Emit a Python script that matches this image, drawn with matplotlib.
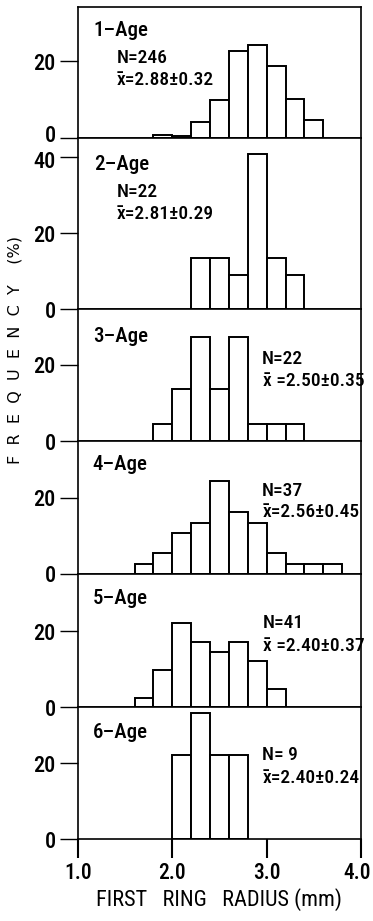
import matplotlib
matplotlib.use("Agg")
import matplotlib.pyplot as plt
import matplotlib.transforms as mtransforms
import numpy as np

plt.rcParams['font.family'] = ['Roboto Condensed', 'DejaVu Sans']
plt.rcParams['font.weight'] = 'medium'

# bin starts (mm) and frequencies (%) for each age group
age1_start = 1.8
age1_freq = [0.6, 0.3, 4.2, 9.8, 22.8, 24.4, 18.7, 10.2, 4.6]
age2_start = 2.2
age2_freq = [13.6, 13.6, 9.1, 40.9, 13.6, 9.1]
age3_start = 1.8
age3_freq = [4.5, 13.6, 27.3, 13.6, 27.3, 4.5, 4.5, 4.5]
age4_start = 1.6
age4_freq = [2.7, 5.4, 10.8, 13.5, 24.3, 16.2, 13.5, 5.4, 2.7, 2.7, 2.7]
age5_start = 1.6
age5_freq = [2.4, 9.8, 22.0, 17.1, 14.6, 17.1, 12.2, 4.9]
age6_start = 2.0
age6_freq = [22.2, 33.3, 22.2, 22.2]
bin_width = 0.2

age_labels = ["1\u2013Age", "2\u2013Age", "3\u2013Age", "4\u2013Age", "5\u2013Age", "6\u2013Age"]
n_labels = ["N=246", "N=22", "N=22", "N=37", "N=41", "N= 9"]
mean_labels = ["x\u0304=2.88\u00b10.32", "x\u0304=2.81\u00b10.29", "x\u0304 =2.50\u00b10.35",
               "x\u0304=2.56\u00b10.45", "x\u0304 =2.40\u00b10.37", "x\u0304=2.40\u00b10.24"]
y_tops = [34.3, 45.1, 34.6, 34.9, 35.0, 34.7]
y_ticks = [[0, 20], [0, 20, 40], [0, 20], [0, 20], [0, 20], [0, 20]]
x_ticks = [1.0, 2.0, 3.0, 4.0]

starts = [age1_start, age2_start, age3_start, age4_start, age5_start, age6_start]
freqs = [age1_freq, age2_freq, age3_freq, age4_freq, age5_freq, age6_freq]

# text positions (data coordinates)
age_pos = [(1.16, 26.8), (1.17, 36.5), (1.16, 26.1), (1.155, 27.3), (1.16, 27.0), (1.16, 26.7)]
n_pos = [(1.41, 19.6), (1.41, 29.6), (2.95, 20.3), (2.95, 20.5), (2.96, 20.8), (2.95, 20.9)]
m_pos = [(1.41, 13.8), (1.41, 23.7), (2.96, 14.4), (2.96, 14.9), (2.96, 14.8), (2.96, 14.7)]

fig = plt.figure(figsize=(3.73, 9.21), dpi=100)
gs = fig.add_gridspec(6, 1, height_ratios=y_tops, hspace=0,
                      left=78/373, right=361/373, top=1-7/921, bottom=1-839.3/921)

lw = 1.4
axes = []
for i in range(6):
    ax = fig.add_subplot(gs[i])
    axes.append(ax)
    f = freqs[i]
    edges = starts[i] + bin_width * np.arange(len(f))
    ax.bar(edges, f, width=bin_width, align='edge', facecolor='white',
           edgecolor='black', linewidth=lw, zorder=2)
    ax.set_xlim(1.0, 4.0)
    ax.set_ylim(0, y_tops[i])
    ax.set_yticks(y_ticks[i])
    ax.set_yticklabels([str(t) for t in y_ticks[i]], fontsize=16)
    for s in ax.spines.values():
        s.set_linewidth(1.2)
    ax.tick_params(axis='y', direction='out', length=13, width=1.0, pad=3)
    if i < 5:
        ax.tick_params(axis='x', bottom=False, labelbottom=False)
    else:
        ax.set_xticks(x_ticks)
        ax.set_xticklabels(["%.1f" % t for t in x_ticks], fontsize=15.5)
        ax.tick_params(axis='x', direction='out', length=14, width=1.5, pad=2)
        ax.set_xlabel("FIRST   RING   RADIUS (mm)", fontsize=16, labelpad=3)
    ax.text(age_pos[i][0], age_pos[i][1], age_labels[i], fontsize=15, ha='left', va='baseline')
    ax.text(n_pos[i][0], n_pos[i][1], n_labels[i], fontsize=14, ha='left', va='baseline')
    ax.text(m_pos[i][0], m_pos[i][1], mean_labels[i], fontsize=14, ha='left', va='baseline')

# small nudges so adjacent tick labels at panel joins do not collide
up = mtransforms.ScaledTranslation(0, 3/72, fig.dpi_scale_trans)
down = mtransforms.ScaledTranslation(0, -2/72, fig.dpi_scale_trans)
left = mtransforms.ScaledTranslation(-3/72, 0, fig.dpi_scale_trans)
lab0 = axes[0].get_yticklabels()[0]
lab0.set_transform(lab0.get_transform() + up)
lab40 = axes[1].get_yticklabels()[-1]
lab40.set_transform(lab40.get_transform() + down)
lab4 = axes[5].get_xticklabels()[-1]
lab4.set_transform(lab4.get_transform() + left)

fig.text(15/373, 1-350/921, "F  R  E  Q  U  E  N  C  Y    (%)", rotation=90, fontsize=11.5,
         family=['DejaVu Sans'], ha='center', va='center')

fig.savefig("out.png", dpi=100)
